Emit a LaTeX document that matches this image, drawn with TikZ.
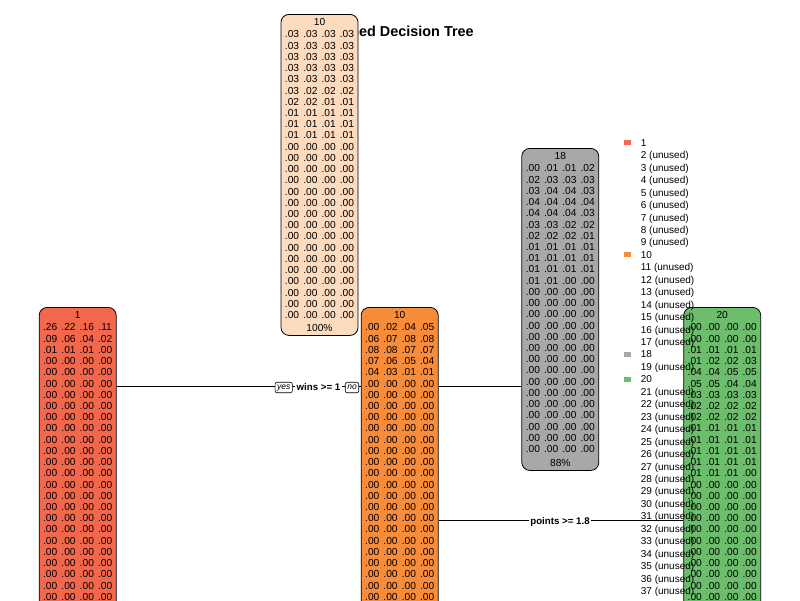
\documentclass[tikz,border=0pt]{standalone}
\usepackage{fontspec}
\setmainfont{Liberation Sans}
\usetikzlibrary{calc}
\definecolor{cred}{RGB}{243,104,77}
\definecolor{corange}{RGB}{247,140,58}
\definecolor{cpeach}{RGB}{253,219,190}
\definecolor{cgray}{RGB}{168,168,168}
\definecolor{cgreen}{RGB}{108,190,108}
\def\fourcols#1 #2 #3 #4\relax{\makebox[18.3pt]{#1}\makebox[18.3pt]{#2}\makebox[18.3pt]{#3}\makebox[18.3pt]{#4}}
\newcommand\zrow{.00 .00 .00 .00}
\newcommand\legtext[1]{\ifnum#1=1 1\else\ifnum#1=10 10\else\ifnum#1=18 18\else\ifnum#1=20 20\else #1 (unused)\fi\fi\fi\fi}
\tikzset{
  x=1pt, y=-1pt,
  tbox/.style={draw, line width=0.8pt, rounded corners=8pt, minimum width=77pt, inner sep=0pt},
  ttxt/.style={inner sep=0pt, font=\fontsize{10.2}{12}\selectfont, text height=7.3pt, text depth=0pt},
  edge/.style={draw, line width=0.8pt},
  yn/.style={draw, fill=white, line width=0.6pt, rounded corners=2pt, inner xsep=2pt, inner ysep=1.5pt, font=\itshape\fontsize{8.5}{10}\selectfont, text height=6pt, text depth=1.5pt},
  split/.style={fill=white, inner xsep=1.5pt, inner ysep=1pt, font=\bfseries\fontsize{9.7}{12}\selectfont, text height=7pt, text depth=0pt},
  legtxt/.style={anchor=west, inner sep=0pt, font=\fontsize{10}{12}\selectfont, text height=7.2pt, text depth=0pt},
  legsq/.style={inner sep=0pt, minimum width=7pt, minimum height=5pt},
  titletxt/.style={inner sep=0pt, font=\bfseries\fontsize{14.4}{17}\selectfont, text height=10.3pt, text depth=0pt}
}
% #1 name, #2 cx, #3 top, #4 bottom, #5 colour, #6 header, #7 footer, #8 leading rows, #9 first zero row
\newcommand\treenode[9]{%
  \node[tbox, fill=#5, minimum height={#4-#3}, anchor=north] (#1) at (#2,#3) {};
  \node[ttxt] (#1-h) at (#2,#3+7.8) {#6};
  \foreach \r [count=\i] in {#8} {\edef\tmp{\r}\node[ttxt] (#1-r\i) at (#2,#3+20.3+\i*11.22-11.22) {\expandafter\fourcols\tmp\relax};}
  \foreach \i in {#9,...,26} {\node[ttxt] (#1-r\i) at (#2,#3+20.3+\i*11.22-11.22) {\expandafter\fourcols\zrow\relax};}
  \node[ttxt] (#1-f) at (#2,#4-7) {#7};
}
\begin{document}
\begin{tikzpicture}
\fill[white] (0,0) rectangle (800,600);
\useasboundingbox (0,0) rectangle (800,600);
\clip (0,0) rectangle (800,600);

\node[titletxt] (title) at (400,31) {Pruned Decision Tree};

\coordinate (ya) at (0,386);
\coordinate (yb) at (0,520);

\treenode{n0}{319.5}{14}{335}{cpeach}{10}{100\%}{.03 .03 .03 .03,.03 .03 .03 .03,.03 .03 .03 .03,.03 .03 .03 .03,.03 .03 .03 .03,.03 .02 .02 .02,.02 .02 .01 .01,.01 .01 .01 .01,.01 .01 .01 .01,.01 .01 .01 .01}{11}

\treenode{n1}{77.7}{307}{628}{cred}{1}{}{.26 .22 .16 .11,.09 .06 .04 .02,.01 .01 .01 .00}{4}

\treenode{n10}{399.7}{307}{628}{corange}{10}{}{.00 .02 .04 .05,.06 .07 .08 .08,.08 .08 .07 .07,.07 .06 .05 .04,.04 .03 .01 .01}{6}

\treenode{n18}{560.3}{148}{470}{cgray}{18}{88\%}{.00 .01 .01 .02,.02 .03 .03 .03,.03 .04 .04 .03,.04 .04 .04 .04,.04 .04 .04 .03,.03 .03 .02 .02,.02 .02 .02 .01,.01 .01 .01 .01,.01 .01 .01 .01,.01 .01 .01 .01,.01 .01 .00 .00}{12}

\treenode{n20}{722.2}{307}{628}{cgreen}{20}{}{\zrow,\zrow,.01 .01 .01 .01,.01 .02 .02 .03,.04 .04 .05 .05,.05 .05 .04 .04,.03 .03 .03 .03,.02 .02 .02 .02,.02 .02 .02 .02,.01 .01 .01 .01,.01 .01 .01 .01,.01 .01 .01 .01,.01 .01 .01 .01,.01 .01 .01 .00}{15}

\draw[edge] (n1.east |- ya) -- (n10.west |- ya);
\draw[edge] (n10.east |- ya) -- (n18.west |- ya);
\draw[edge] (n10.east |- yb) -- (n20.west |- yb);

\node[yn] (yes) at (283.7,387.5) {yes};
\node[split] (s1) at (318.5,387) {wins >= 1};
\node[yn] (no) at (352,387.5) {no};
\node[split] (s2) at (560,520.7) {points >= 1.8};

\foreach \k in {1,...,37} {
  \node[legtxt] (leg\k) at (640.7,142.7+\k*12.45-12.45) {\legtext{\k}};
}
\node[legsq, fill=cred] (sq1) at (627.5,142.7) {};
\node[legsq, fill=corange] (sq10) at (627.5,254.7) {};
\node[legsq, fill=cgray] (sq18) at (627.5,354.3) {};
\node[legsq, fill=cgreen] (sq20) at (627.5,379.2) {};
\end{tikzpicture}
\end{document}
